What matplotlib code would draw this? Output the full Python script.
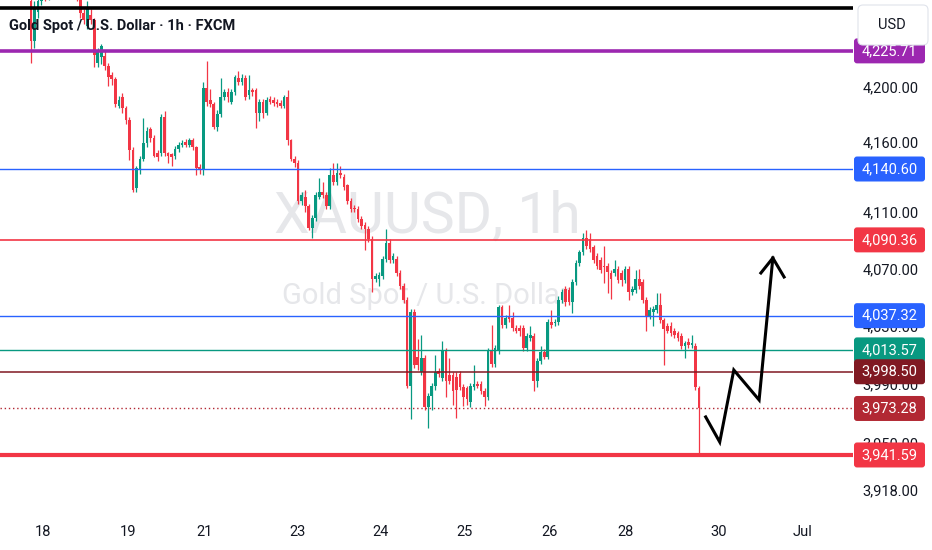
import matplotlib
matplotlib.use('Agg')
import matplotlib.pyplot as plt
import numpy as np
from matplotlib.patches import FancyBboxPatch
from matplotlib.transforms import IdentityTransform
from matplotlib.ticker import FixedLocator, NullLocator, NullFormatter, FuncFormatter

plt.rcParams['font.family'] = ['Roboto', 'DejaVu Sans']

# ---------------- data (hourly OHLC, XAUUSD) ----------------
opens = [4262, 4233, 4254, 4262, 4270, 4266, 4274, 4280, 4276, 4271, 4275, 4279, 4270, 4268,
         4264, 4253, 4244, 4252, 4248, 4217, 4221, 4222, 4215, 4208, 4205, 4186, 4192, 4184,
         4176, 4154, 4127, 4140, 4148, 4159, 4169, 4163, 4152, 4152, 4178, 4152, 4151, 4150,
         4155, 4158, 4160, 4158, 4161, 4156, 4142, 4140, 4199, 4190, 4187, 4171, 4180, 4192,
         4196, 4189, 4196, 4206, 4203, 4206, 4194, 4197, 4197, 4181, 4189, 4181, 4191, 4190,
         4189, 4188, 4186, 4192, 4161, 4148, 4145, 4118, 4121, 4114, 4099, 4106, 4121, 4124,
         4122, 4114, 4136, 4131, 4138, 4135, 4129, 4118, 4113, 4112, 4105, 4101, 4098, 4091,
         4063, 4063, 4065, 4077, 4088, 4076, 4077, 4067, 4058, 4048, 3989, 4040, 4009, 3998,
         4008, 3974, 3982, 3989, 3999, 3994, 4013, 3996, 3996, 3995, 3997, 3988, 3987, 3978,
         3988, 3990, 3990, 3985, 3981, 4013, 4004, 4013, 4043, 4031, 4037, 4036, 4029, 4029,
         4029, 4015, 4022, 4023, 3992, 4006, 4012, 4009, 4033, 4032, 4033, 4048, 4056, 4055,
         4047, 4061, 4074, 4082, 4092, 4091, 4085, 4079, 4076, 4072, 4072, 4067, 4067, 4070,
         4067, 4062, 4070, 4054, 4055, 4063, 4061, 4048, 4037, 4040, 4041, 4045, 4034, 4030,
         4030, 4027, 4025, 4023, 4016, 4019, 4017, 4016, 3987]
highs = [4266, 4262, 4268, 4274, 4276, 4279, 4285, 4284, 4280, 4279, 4282, 4281, 4273, 4271,
         4268, 4256, 4262, 4256, 4250, 4228, 4231, 4226, 4217, 4210, 4207, 4193, 4195, 4186,
         4178, 4156, 4143, 4150, 4177, 4171, 4171, 4165, 4154, 4180, 4182, 4153, 4152, 4157,
         4160, 4161, 4162, 4163, 4163, 4157, 4144, 4203, 4218, 4198, 4189, 4183, 4206, 4198,
         4199, 4198, 4208, 4211, 4209, 4208, 4208, 4199, 4199, 4191, 4191, 4192, 4193, 4192,
         4191, 4190, 4194, 4197, 4162, 4150, 4147, 4124, 4126, 4116, 4108, 4124, 4134, 4131,
         4124, 4141, 4145, 4145, 4143, 4137, 4130, 4120, 4115, 4114, 4107, 4103, 4100, 4093,
         4067, 4068, 4079, 4098, 4091, 4081, 4079, 4069, 4060, 4050, 4042, 4042, 4021, 4024,
         4010, 3984, 3991, 4010, 4001, 4020, 4015, 4008, 3998, 3998, 3999, 3990, 3989, 3991,
         4003, 3992, 3992, 3987, 4015, 4031, 4017, 4045, 4045, 4038, 4045, 4040, 4031, 4031,
         4031, 4025, 4030, 4025, 4008, 4016, 4014, 4035, 4041, 4035, 4051, 4056, 4058, 4057,
         4063, 4076, 4083, 4095, 4097, 4095, 4087, 4081, 4078, 4086, 4074, 4069, 4076, 4072,
         4069, 4072, 4072, 4058, 4069, 4070, 4063, 4050, 4043, 4044, 4053, 4053, 4036, 4032,
         4033, 4029, 4027, 4025, 4020, 4022, 4024, 4018, 3989]
lows = [4217, 4228, 4250, 4259, 4262, 4263, 4270, 4272, 4267, 4268, 4271, 4268, 4264, 4262,
        4250, 4245, 4242, 4245, 4214, 4214, 4216, 4212, 4200, 4201, 4185, 4184, 4181, 4173,
        4147, 4124, 4124, 4137, 4146, 4156, 4160, 4149, 4146, 4150, 4150, 4145, 4143, 4148,
        4153, 4156, 4156, 4156, 4154, 4136, 4137, 4136, 4186, 4185, 4169, 4168, 4178, 4190,
        4189, 4187, 4194, 4201, 4201, 4190, 4191, 4193, 4170, 4175, 4177, 4179, 4187, 4186,
        4185, 4184, 4184, 4158, 4146, 4142, 4116, 4115, 4110, 4097, 4092, 4104, 4119, 4120,
        4112, 4112, 4129, 4129, 4134, 4126, 4116, 4110, 4110, 4103, 4098, 4083, 4089, 4054,
        4061, 4058, 4063, 4075, 4074, 4074, 4065, 4056, 4046, 3987, 3966, 4001, 4000, 3996,
        3972, 3960, 3972, 3986, 3995, 3992, 3981, 3990, 3976, 3967, 3986, 3975, 3976, 3974,
        3986, 3987, 3983, 3975, 3979, 4002, 4002, 4011, 4029, 4029, 4033, 4027, 4025, 4023,
        4013, 4013, 4020, 3985, 3988, 4004, 4007, 4007, 4029, 4030, 4031, 4046, 4044, 4045,
        4039, 4059, 4072, 4080, 4084, 4082, 4074, 4070, 4067, 4060, 4053, 4049, 4065, 4060,
        4058, 4060, 4048, 4052, 4053, 4056, 4046, 4027, 4035, 4030, 4039, 4032, 4003, 4025,
        4023, 4022, 4020, 4014, 4008, 4015, 4015, 3986, 3941.59]
closes = [4233, 4256, 4262, 4270, 4266, 4274, 4280, 4276, 4271, 4275, 4279, 4270, 4268, 4264,
          4253, 4248, 4258, 4248, 4223, 4225, 4229, 4215, 4207, 4205, 4187, 4190, 4184, 4176,
          4154, 4126, 4141, 4148, 4159, 4168, 4163, 4150, 4149, 4178, 4152, 4150, 4149, 4155,
          4158, 4159, 4158, 4161, 4156, 4141, 4140, 4199, 4189, 4187, 4171, 4180, 4192, 4196,
          4192, 4196, 4207, 4203, 4206, 4192, 4197, 4196, 4181, 4189, 4181, 4190, 4189, 4188,
          4187, 4186, 4192, 4161, 4148, 4145, 4118, 4122, 4114, 4099, 4106, 4122, 4124, 4122,
          4114, 4136, 4131, 4138, 4136, 4128, 4118, 4112, 4112, 4105, 4100, 4098, 4091, 4063,
          4065, 4066, 4077, 4088, 4076, 4079, 4067, 4058, 4048, 3989, 4040, 4003, 4003, 4008,
          3974, 3982, 3989, 3998, 3997, 4013, 3992, 3992, 3985, 3986, 3988, 3981, 3980, 3989,
          3990, 3989, 3985, 3981, 4013, 4004, 4015, 4043, 4031, 4036, 4035, 4029, 4027, 4027,
          4015, 4023, 4024, 3992, 4006, 4012, 4009, 4033, 4031, 4033, 4048, 4054, 4047, 4047,
          4061, 4074, 4082, 4092, 4086, 4084, 4076, 4072, 4069, 4071, 4068, 4063, 4070, 4062,
          4062, 4070, 4054, 4056, 4063, 4058, 4048, 4037, 4041, 4042, 4045, 4034, 4028, 4027,
          4025, 4024, 4022, 4016, 4018, 4017, 4018, 3988, 3973.28]

date_pos = [3.4, 27.6, 49.5, 75.7, 99.3, 123.4, 147.6, 169.2, 195.7, 219.3]
date_labels = ['18', '19', '21', '23', '24', '25', '26', '28', '30', 'Jul']
price_ticks = [4200, 4160, 4110, 4070, 4030, 3990, 3950, 3918]

level_prices = [4225.71, 4140.60, 4090.36, 4037.32, 4013.57, 3998.50, 3973.28, 3941.59]
level_colors = ['#9c27b0', '#2962ff', '#f23645', '#2962ff', '#089981', '#801922', '#b22833', '#f23645']
level_widths = [2.6, 1.0, 1.2, 1.0, 1.0, 1.1, 1.0, 3.0]
level_styles = ['-', '-', '-', '-', '-', '-', (0, (1, 2)), '-']
top_line_price = 4256.8

zig_x = [191.9, 195.9, 199.9, 207.1, 211.0]
zig_y = [3967.5, 3950.4, 3999.7, 3979.1, 4077.6]
head_x = [207.6, 211.0, 214.2]
head_y = [4067.1, 4077.6, 4064.3]

GREEN = '#089981'
RED = '#f23645'
TXT = '#131722'

# ---------------- figure ----------------
W, H = 932, 550
fig = plt.figure(figsize=(W / 100, H / 100), dpi=100)
fig.patch.set_facecolor('white')
ax = fig.add_axes([0, 33 / H, 853 / W, 517 / H])
ax.set_facecolor('white')
ax.set_yscale('log')
ax.set_ylim(3899.7, 4262.9)
ax.set_xlim(-8.8, 233.8)
for s in ax.spines.values():
    s.set_visible(False)

# watermark
ax.text(0.5006, 0.580, 'XAUUSD, 1h', transform=ax.transAxes, ha='center', va='center',
        fontsize=41, color='#e6e7ea', zorder=0.5)
ax.text(0.4995, 0.427, 'Gold Spot / U.S. Dollar', transform=ax.transAxes, ha='center',
        va='center', fontsize=21, color='#e6e7ea', zorder=0.5)

# candles
o = np.array(opens, float)
h = np.array(highs, float)
l = np.array(lows, float)
c = np.array(closes, float)
idx = np.arange(len(o))
cols = np.where(c >= o, GREEN, RED)
ax.vlines(idx, l, h, colors=cols, lw=0.9, zorder=2)
ax.bar(idx, np.maximum(np.abs(c - o), 0.35), bottom=np.minimum(o, c), width=0.76,
       color=cols, linewidth=0, zorder=3)

# horizontal levels
for p, col, lw, ls in zip(level_prices, level_colors, level_widths, level_styles):
    ax.axhline(p, color=col, lw=lw, linestyle=ls, zorder=4)
ax.axhline(top_line_price, color='black', lw=2.6, zorder=5)

# hand-drawn path
ax.plot(zig_x, zig_y, color='black', lw=2.2, zorder=6, solid_joinstyle='miter')
ax.plot(head_x, head_y, color='black', lw=2.2, zorder=6, solid_joinstyle='miter')

# axes ticks
ax.yaxis.tick_right()
ax.yaxis.set_major_locator(FixedLocator(price_ticks))
ax.yaxis.set_minor_locator(NullLocator())
ax.yaxis.set_minor_formatter(NullFormatter())
ax.yaxis.set_major_formatter(FuncFormatter(lambda v, _: f'{v:,.2f}'))
ax.tick_params(axis='y', length=0, pad=7, labelsize=10.5, labelcolor=TXT)
ax.set_xticks(date_pos)
ax.set_xticklabels(date_labels)
ax.tick_params(axis='x', length=0, pad=6, labelsize=10.5, labelcolor=TXT)

# title
fig.text(9 / W, 1 - 26 / H, 'Gold Spot / U.S. Dollar · 1h · FXCM', ha='left', va='center',
         fontsize=10.5, fontweight='bold', color=TXT, zorder=10)

# price tags on the scale
fig.canvas.draw()
for p, col in zip(level_prices, level_colors):
    yd = ax.transData.transform((0, p))[1]
    patch = FancyBboxPatch((854, yd - 12.5), 71, 25, boxstyle='round,pad=0,rounding_size=3',
                           transform=IdentityTransform(), fc=col, ec='none', zorder=5)
    fig.add_artist(patch)
    fig.text(889.5, yd, f'{p:,.2f}', transform=IdentityTransform(), ha='center', va='center',
             fontsize=10.5, color='white', zorder=6)

# currency box
usd = FancyBboxPatch((858, H - 45), 70, 40, boxstyle='round,pad=0,rounding_size=5',
                     transform=IdentityTransform(), fc='white', ec='#e0e3eb', lw=0.8, zorder=8)
fig.add_artist(usd)
fig.text(892, H - 25, 'USD', transform=IdentityTransform(), ha='center', va='center',
         fontsize=10.5, color=TXT, zorder=9)

fig.savefig('out.png', dpi=100, facecolor='white')
